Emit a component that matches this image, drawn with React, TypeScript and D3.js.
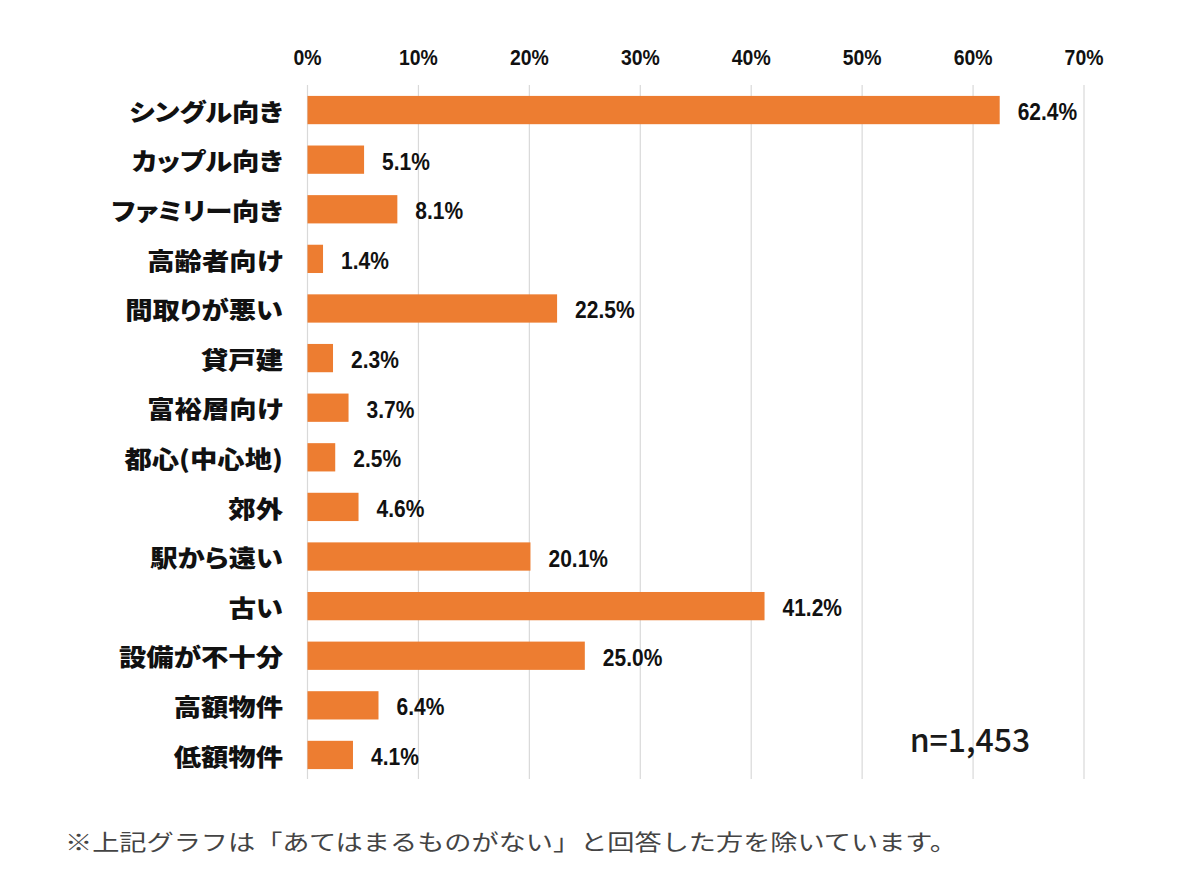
import React from "react";
import * as d3 from "d3";

const categories = [
  "シングル向き",
  "カップル向き",
  "ファミリー向き",
  "高齢者向け",
  "間取りが悪い",
  "貸戸建",
  "富裕層向け",
  "都心(中心地)",
  "郊外",
  "駅から遠い",
  "古い",
  "設備が不十分",
  "高額物件",
  "低額物件",
];
const values = [62.4, 5.1, 8.1, 1.4, 22.5, 2.3, 3.7, 2.5, 4.6, 20.1, 41.2, 25.0, 6.4, 4.1];
const ticks = [0, 10, 20, 30, 40, 50, 60, 70];
const sampleNote = "n=1,453";
const footnote = "※上記グラフは「あてはまるものがない」と回答した方を除いています。";

const W = 1200;
const H = 877;

export default function App() {
  const x = d3.scaleLinear().domain([0, 70]).range([307.5, 1084]);
  const y = d3.scaleBand<string>().domain(categories).range([85, 780]).paddingInner(0.43).paddingOuter(0.22);
  const bw = y.bandwidth();
  const cjk = '"Noto Sans CJK JP", "Noto Sans", sans-serif';
  const num = '"Liberation Sans", Arial, sans-serif';

  return (
    <svg width={W} height={H} viewBox={`0 0 ${W} ${H}`} style={{ display: "block", position: "absolute", left: 0, top: 0, background: "#fff" }}>
      <rect x={0} y={0} width={W} height={H} fill="#fff" />
      {ticks.map((t) => (
        <g key={t}>
          <line x1={x(t)} x2={x(t)} y1={85} y2={779} stroke="#d9d9d9" strokeWidth={1.2} />
          <text
            x={0}
            y={0}
            transform={`translate(${x(t)},65) scale(0.97,1.1)`}
            textAnchor="middle"
            fontFamily={num}
            fontWeight={700}
            fontSize={20}
            fill="#111"
          >
            {`${t}%`}
          </text>
        </g>
      ))}
      {categories.map((c, i) => {
        const cy = (y(c) as number) + bw / 2;
        return (
          <g key={c}>
            <rect x={x(0)} y={y(c)} width={x(values[i]) - x(0)} height={bw} fill="#ED7D31" />
            <text
              transform={`translate(283,${cy}) scale(1.14,1)`}
              textAnchor="end"
              dominantBaseline="central"
              fontFamily={cjk}
              fontWeight={900}
              fontSize={24}
              fill="#111"
              style={{ fontFeatureSettings: "'palt'" }}
            >
              {c}
            </text>
            <text
              x={0}
              y={0}
              transform={`translate(${x(values[i]) + 18},${cy + 10}) scale(1,1.12)`}
              fontFamily={num}
              fontWeight={700}
              fontSize={21}
              fill="#111"
            >
              {`${values[i].toFixed(1)}%`}
            </text>
          </g>
        );
      })}
      <text x={970} y={752} textAnchor="middle" fontFamily={cjk} fontWeight={500} fontSize={32} fill="#1a1a1a">
        {sampleNote}
      </text>
      <text x={65} y={850} fontFamily={cjk} fontWeight={400} fontSize={22} fill="#444" textLength={892} lengthAdjust="spacingAndGlyphs">
        {footnote}
      </text>
    </svg>
  );
}
